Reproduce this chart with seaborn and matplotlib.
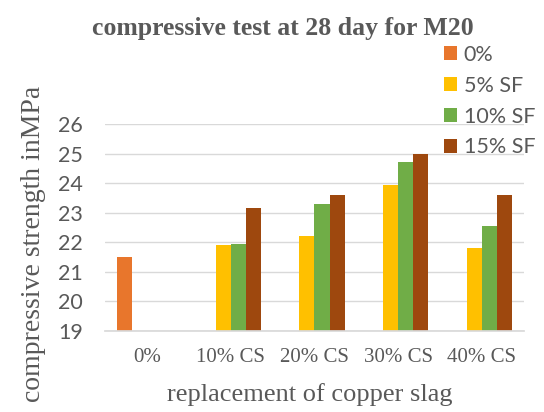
import numpy as np
import pandas as pd
import matplotlib
matplotlib.use("Agg")
import matplotlib.pyplot as plt
import seaborn as sns

categories = ["0%", "10% CS", "20% CS", "30% CS", "40% CS"]
series_names = ["0%", "5% SF", "10% SF", "15% SF"]
s_0 = [21.5, np.nan, np.nan, np.nan, np.nan]
s_5sf = [np.nan, 21.9, 22.2, 23.95, 21.8]
s_10sf = [np.nan, 21.95, 23.3, 24.7, 22.55]
s_15sf = [np.nan, 23.15, 23.6, 24.97, 23.6]
colors = ["#E8762C", "#FFC000", "#70AD47", "#9E480E"]

rows = []
for name, vals in zip(series_names, [s_0, s_5sf, s_10sf, s_15sf]):
    for c, v in zip(categories, vals):
        rows.append({"cat": c, "series": name, "value": v})
df = pd.DataFrame(rows)

sns.set_theme(style="white")
fig = plt.figure(figsize=(5.44, 4.12), dpi=100)
ax = fig.add_axes([0.193, 0.197, 0.770, 0.502])

sns.barplot(data=df, x="cat", y="value", hue="series", order=categories,
            hue_order=series_names, palette=colors, width=0.72, ax=ax,
            errorbar=None, saturation=1, linewidth=0, edgecolor="none")

ax.set_ylim(19, 26)
ax.set_yticks(range(19, 27))
ax.yaxis.grid(True, color="#D9D9D9", linewidth=1)
ax.set_axisbelow(True)
for s in ["top", "right", "left"]:
    ax.spines[s].set_visible(False)
ax.spines["bottom"].set_color("#D9D9D9")
ax.tick_params(axis="both", length=0)
gray = "#595959"
for lbl in ax.get_yticklabels():
    lbl.set_fontfamily("Lato")
    lbl.set_fontsize(15.5)
    lbl.set_color(gray)
for lbl in ax.get_xticklabels():
    lbl.set_fontfamily("Liberation Serif")
    lbl.set_fontsize(15)
    lbl.set_color(gray)
ax.tick_params(axis="x", pad=12)
ax.tick_params(axis="y", pad=16)

ax.set_xlabel("replacement of copper slag", family="Liberation Serif",
              fontsize=19, color=gray)
ax.xaxis.set_label_coords(0.489, -0.251)
ax.set_ylabel("compressive strength inMPa", family="Liberation Serif",
              fontsize=20, color=gray)
ax.yaxis.set_label_coords(-0.141, 0.42)

fig.text(0.52, 0.932, "compressive test at 28 day for M20", ha="center",
         va="center", family="Liberation Serif", fontweight="bold",
         fontsize=18.5, color=gray)

handles, labels = ax.get_legend_handles_labels()
ax.legend(handles, labels, loc="upper left",
          bbox_to_anchor=(444 / 544, 1 - 45 / 412),
          bbox_transform=fig.transFigure, frameon=False,
          prop={"family": "Lato", "size": 15.5},
          handlelength=0.62, handleheight=0.62, handletextpad=0.3,
          labelspacing=0.5, borderaxespad=0, borderpad=0, labelcolor=gray)

fig.savefig("out.png", dpi=100, facecolor="white")
